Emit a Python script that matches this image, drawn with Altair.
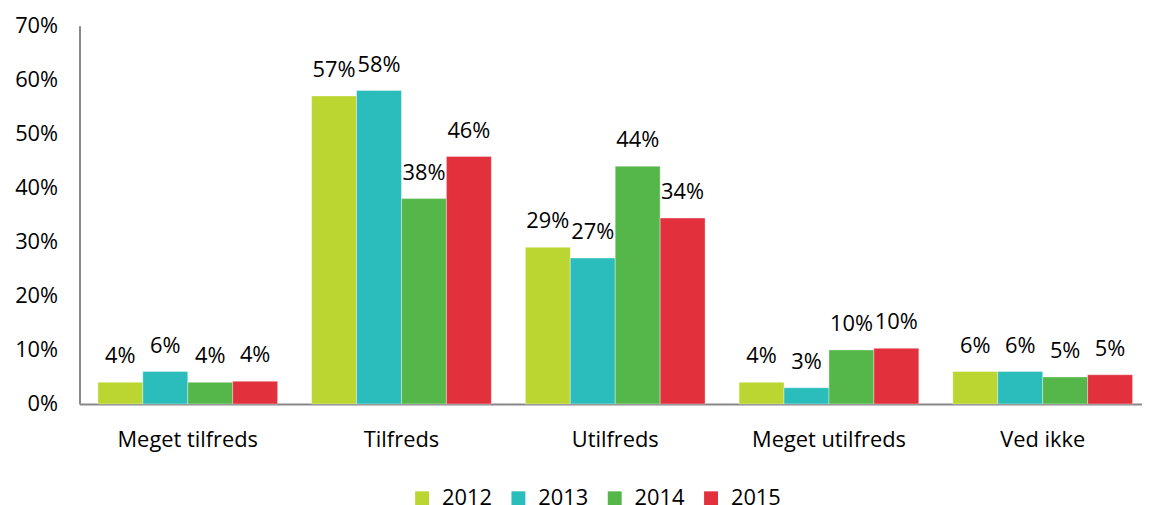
import altair as alt
import pandas as pd

categories = ["Meget tilfreds", "Tilfreds", "Utilfreds", "Meget utilfreds", "Ved ikke"]
years = ["2012", "2013", "2014", "2015"]
v2012 = [0.04, 0.57, 0.29, 0.04, 0.06]
v2013 = [0.06, 0.58, 0.27, 0.03, 0.06]
v2014 = [0.04, 0.38, 0.44, 0.10, 0.05]
v2015 = [0.042, 0.458, 0.344, 0.103, 0.054]
colors = ["#BCD631", "#2BBDBC", "#55B74A", "#E2303D"]
yticks = [0, 0.1, 0.2, 0.3, 0.4, 0.5, 0.6, 0.7]

rows = []
for yr, vals in zip(years, [v2012, v2013, v2014, v2015]):
    for c, v in zip(categories, vals):
        rows.append({"cat": c, "year": yr, "value": v})
df = pd.DataFrame(rows)

FONT = "Open Sans"
FS = 22

x = alt.X("cat:N", sort=categories,
          scale=alt.Scale(paddingInner=0.159, paddingOuter=0.086),
          axis=alt.Axis(title=None, labelAngle=0, ticks=False, domainColor="#888888",
                        domainWidth=2, labelFontSize=FS, labelFont=FONT, labelColor="#000000",
                        labelPadding=26, labelBaseline="top"))
xo = alt.XOffset("year:N", sort=years, scale=alt.Scale(paddingInner=0, paddingOuter=0))
y = alt.Y("value:Q", scale=alt.Scale(domain=[0, 0.7], nice=False),
          axis=alt.Axis(title=None, format=".0%", values=yticks, grid=False, ticks=False,
                        domainColor="#888888", domainWidth=2, labelFontSize=FS, labelFont=FONT,
                        labelColor="#000000", labelPadding=22))

bars = alt.Chart(df).mark_bar(stroke="#ffffff", strokeWidth=0.6, strokeOpacity=0.6).encode(
    x=x, xOffset=xo, y=y,
    color=alt.Color("year:N", sort=years, scale=alt.Scale(domain=years, range=colors),
                    legend=alt.Legend(title=None, orient="none", direction="horizontal",
                                      legendX=332, legendY=463, symbolType="square",
                                      symbolSize=196, symbolStrokeWidth=0,
                                      labelFontSize=FS, labelFont=FONT, labelColor="#000000",
                                      columnPadding=15, labelOffset=9, padding=2,
                                      labelLimit=200))
)

text = alt.Chart(df).mark_text(baseline="alphabetic", dy=-19, fontSize=FS, font=FONT,
                               color="#000000").encode(
    x=x, xOffset=xo, y=y, text=alt.Text("value:Q", format=".0%")
)

chart = (bars + text).properties(
    width=1079, height=381,
    autosize=alt.AutoSizeParams(type="none"),
    padding={"left": 72, "top": 16, "right": -9, "bottom": 100},
).configure_view(stroke=None)

chart.save("out.html", embed_options={"renderer": "svg", "actions": False})
